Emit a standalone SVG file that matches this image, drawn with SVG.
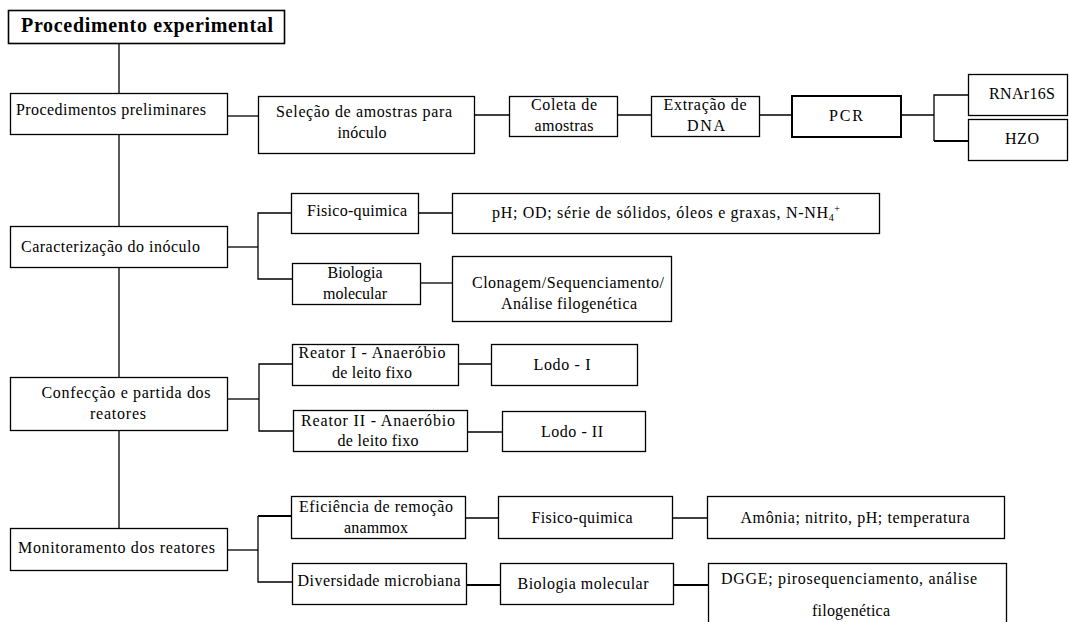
<svg xmlns="http://www.w3.org/2000/svg" width="1069" height="622" viewBox="0 0 1069 622">
<style>
.box{fill:#fff;stroke:#000;stroke-width:1.3}
.thick{stroke-width:2}
.t{font-family:"Liberation Serif","Times New Roman",serif;font-size:16px;fill:#000}
.c{text-anchor:middle}
.title{font-family:"Liberation Serif","Times New Roman",serif;font-size:20px;font-weight:bold;fill:#000}
.ln{stroke:#000;stroke-width:1.3;fill:none}
.lnb{stroke:#000;stroke-width:2;fill:none}
</style>
<rect width="1069" height="622" fill="#fff"/>
<g id="connectors">
<line class="ln" x1="119" y1="43" x2="119" y2="528"/>
<line class="ln" x1="227" y1="116" x2="258" y2="116"/>
<line class="ln" x1="474" y1="115" x2="509" y2="115"/>
<line class="ln" x1="617" y1="115" x2="651" y2="115"/>
<line class="ln" x1="759" y1="115" x2="792" y2="115"/>
<line class="ln" x1="901" y1="115" x2="934" y2="115"/>
<polyline class="ln" points="968,95 934,95 934,141"/>
<line class="lnb" x1="934" y1="141" x2="968" y2="141"/>
<line class="ln" x1="227" y1="247" x2="258" y2="247"/>
<polyline class="ln" points="291,213 258,213 258,279 292,279"/>
<line class="ln" x1="418" y1="213" x2="452" y2="213"/>
<line class="ln" x1="420" y1="283" x2="452" y2="283"/>
<line class="ln" x1="228" y1="399" x2="259" y2="399"/>
<polyline class="ln" points="292,364 259,364 259,431 293,431"/>
<line class="ln" x1="458" y1="364" x2="491" y2="364"/>
<line class="ln" x1="467" y1="432" x2="502" y2="432"/>
<line class="ln" x1="227" y1="550" x2="258" y2="550"/>
<line class="lnb" x1="258" y1="516" x2="291" y2="516"/>
<polyline class="ln" points="258,516 258,582 292,582"/>
<line class="ln" x1="465" y1="518" x2="498" y2="518"/>
<line class="ln" x1="672" y1="518" x2="707" y2="518"/>
<line class="lnb" x1="466" y1="585" x2="500" y2="585"/>
<line class="lnb" x1="673" y1="585" x2="708" y2="585"/>
</g>
<g id="title">
<rect class="box" x="8.5" y="10.5" width="276" height="33" style="stroke-width:1.6"/>
<text class="title" x="21" y="32" textLength="252" lengthAdjust="spacing">Procedimento experimental</text>
</g>
<g id="preliminares">
<rect class="box" x="10.5" y="93.5" width="217" height="41"/>
<text class="t" x="16" y="115" textLength="190" lengthAdjust="spacing">Procedimentos preliminares</text>
</g>
<g id="selecao">
<rect class="box" x="258.5" y="96.5" width="216" height="57"/>
<text class="t c" x="364" y="117" textLength="176" lengthAdjust="spacing">Seleção de amostras para</text>
<text class="t c" x="362" y="138" textLength="49" lengthAdjust="spacing">inóculo</text>
</g>
<g id="coleta">
<rect class="box" x="509.5" y="96.5" width="108" height="40"/>
<text class="t c" x="564" y="110" textLength="66" lengthAdjust="spacing">Coleta de</text>
<text class="t c" x="564" y="131" textLength="59" lengthAdjust="spacing">amostras</text>
</g>
<g id="extracao">
<rect class="box" x="651.5" y="96.5" width="108" height="40"/>
<text class="t c" x="705" y="110" textLength="83" lengthAdjust="spacing">Extração de</text>
<text class="t c" x="706" y="131" textLength="38" lengthAdjust="spacing">DNA</text>
</g>
<g id="pcr">
<rect class="box thick" x="792" y="96" width="109" height="41"/>
<text class="t c" x="846" y="121" textLength="34" lengthAdjust="spacing">PCR</text>
</g>
<g id="rnar16s">
<rect class="box" x="968.5" y="74.5" width="99" height="41"/>
<text class="t c" x="1022" y="99" textLength="66" lengthAdjust="spacing">RNAr16S</text>
</g>
<g id="hzo">
<rect class="box" x="968.5" y="119.5" width="99" height="41"/>
<text class="t c" x="1022" y="144" textLength="34" lengthAdjust="spacing">HZO</text>
</g>
<g id="caracterizacao">
<rect class="box" x="10.5" y="226.5" width="217" height="41"/>
<text class="t" x="21" y="252" textLength="179" lengthAdjust="spacing">Caracterização do inóculo</text>
</g>
<g id="fisico1">
<rect class="box" x="291.5" y="193.5" width="127" height="40"/>
<text class="t" x="307" y="216" textLength="100" lengthAdjust="spacing">Fisico-quimica</text>
</g>
<g id="ph">
<rect class="box" x="452.5" y="193.5" width="427" height="40"/>
<text class="t" x="492" y="218" textLength="348" lengthAdjust="spacing">pH; OD; série de sólidos, óleos e graxas, N-NH<tspan font-size="10" dy="3">4</tspan><tspan font-size="10" dy="-9">+</tspan></text>
</g>
<g id="biologia1">
<rect class="box" x="292.5" y="263.5" width="128" height="41"/>
<text class="t c" x="355" y="278" textLength="55" lengthAdjust="spacing">Biologia</text>
<text class="t c" x="355" y="299" textLength="64" lengthAdjust="spacing">molecular</text>
</g>
<g id="clonagem">
<rect class="box" x="452.5" y="256.5" width="219" height="65"/>
<text class="t c" x="568" y="288" textLength="192" lengthAdjust="spacing">Clonagem/Sequenciamento/</text>
<text class="t c" x="569" y="309" textLength="136" lengthAdjust="spacing">Análise filogenética</text>
</g>
<g id="confeccao">
<rect class="box" x="10.5" y="377.5" width="217" height="53"/>
<text class="t c" x="126" y="398" textLength="169" lengthAdjust="spacing">Confecção e partida dos</text>
<text class="t c" x="118" y="419" textLength="56" lengthAdjust="spacing">reatores</text>
</g>
<g id="reator1">
<rect class="box" x="292.5" y="344.5" width="166" height="41"/>
<text class="t c" x="372" y="358" textLength="147" lengthAdjust="spacing">Reator I - Anaeróbio</text>
<text class="t c" x="372" y="378" textLength="80" lengthAdjust="spacing">de leito fixo</text>
</g>
<g id="lodo1">
<rect class="box" x="491.5" y="344.5" width="146" height="41"/>
<text class="t c" x="562" y="370" textLength="57" lengthAdjust="spacing">Lodo - I</text>
</g>
<g id="reator2">
<rect class="box" x="293.5" y="410.5" width="174" height="41"/>
<text class="t c" x="378" y="426" textLength="154" lengthAdjust="spacing">Reator II - Anaeróbio</text>
<text class="t c" x="378" y="446" textLength="81" lengthAdjust="spacing">de leito fixo</text>
</g>
<g id="lodo2">
<rect class="box" x="502.5" y="411.5" width="143" height="40"/>
<text class="t c" x="572" y="437" textLength="62" lengthAdjust="spacing">Lodo - II</text>
</g>
<g id="monitoramento">
<rect class="box" x="10.5" y="528.5" width="217" height="42"/>
<text class="t" x="18" y="553" textLength="197" lengthAdjust="spacing">Monitoramento dos reatores</text>
</g>
<g id="eficiencia">
<rect class="box" x="291.5" y="496.5" width="174" height="42"/>
<text class="t c" x="376" y="512" textLength="154" lengthAdjust="spacing">Eficiência de remoção</text>
<text class="t c" x="376" y="533" textLength="64" lengthAdjust="spacing">anammox</text>
</g>
<g id="diversidade">
<rect class="box" x="292.5" y="563.5" width="174" height="41"/>
<text class="t c" x="379" y="586" textLength="163" lengthAdjust="spacing">Diversidade microbiana</text>
</g>
<g id="fisico2">
<rect class="box" x="498.5" y="496.5" width="174" height="42"/>
<text class="t c" x="582" y="523" textLength="101" lengthAdjust="spacing">Fisico-quimica</text>
</g>
<g id="amonia">
<rect class="box" x="707.5" y="496.5" width="297" height="42"/>
<text class="t c" x="855" y="523" textLength="229" lengthAdjust="spacing">Amônia; nitrito, pH; temperatura</text>
</g>
<g id="biologia2">
<rect class="box" x="500.5" y="563.5" width="173" height="41"/>
<text class="t c" x="583" y="589" textLength="131" lengthAdjust="spacing">Biologia molecular</text>
</g>
<g id="dgge">
<rect class="box" x="708.5" y="563.5" width="298" height="70"/>
<text class="t" x="721" y="584" textLength="256" lengthAdjust="spacing">DGGE; pirosequenciamento, análise</text>
<text class="t c" x="851" y="616" textLength="78" lengthAdjust="spacing">filogenética</text>
</g>
</svg>
